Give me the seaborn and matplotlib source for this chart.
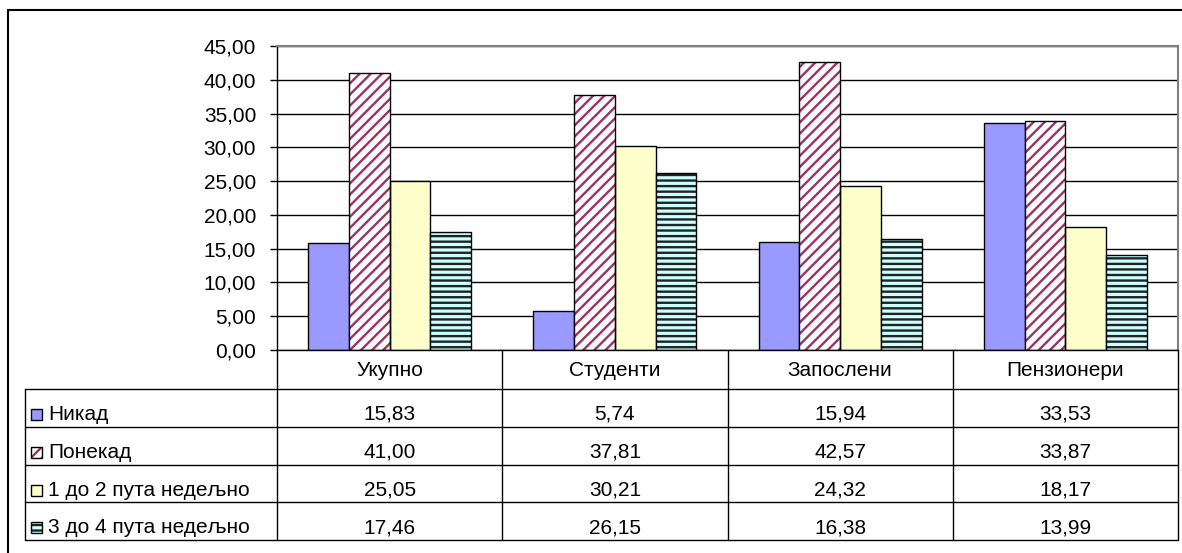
import numpy as np
import pandas as pd
import matplotlib
matplotlib.use("Agg")
import matplotlib.pyplot as plt
import seaborn as sns
from matplotlib.patches import Rectangle
from matplotlib.lines import Line2D

# Survey groups (columns) and answer series (rows of the data table)
categories = ["Укупно", "Студенти", "Запослени", "Пензионери"]
series = ["Никад", "Понекад", "1 до 2 пута недељно", "3 до 4 пута недељно"]
nikad = [15.83, 5.74, 15.94, 33.53]
ponekad = [41.00, 37.81, 42.57, 33.87]
jedan_dva = [25.05, 30.21, 24.32, 18.17]
tri_cetiri = [17.46, 26.15, 16.38, 13.99]
y_ticks = [0, 5, 10, 15, 20, 25, 30, 35, 40, 45]

values = [nikad, ponekad, jedan_dva, tri_cetiri]
fills = ["#9999FF", "#FFFFFF", "#FFFFCC", "#CCFFFF"]
hatches = [None, "///", None, "---"]
hatch_colors = [None, "#993366", None, "#222222"]

df = pd.DataFrame(
    [(c, s, v[i]) for s, v in zip(series, values) for i, c in enumerate(categories)],
    columns=["група", "одговор", "проценат"],
)

sns.set_theme(style="white")
plt.rcParams["font.family"] = ["Liberation Sans", "DejaVu Sans"]
plt.rcParams["hatch.linewidth"] = 1.7
FS = 15

W, H = 1182, 553
fig = plt.figure(figsize=(W / 100, H / 100), dpi=100)
fig.patch.set_facecolor("white")


def fx(px):
    return px / W


def fy(py):
    return 1 - py / H


X0, X1, Y0, Y1 = 277, 1178, 350, 46
ax = fig.add_axes([fx(X0), fy(Y0), fx(X1) - fx(X0), fy(Y1) - fy(Y0)])

sns.barplot(
    data=df, x="група", y="проценат", hue="одговор",
    order=categories, hue_order=series, palette=fills,
    saturation=1, width=0.724, gap=0, edgecolor="black", linewidth=1,
    legend=False, ax=ax,
)

# Patterned series: hatch in its own colour, black outline drawn on top
for cont, h, hc in zip(ax.containers, hatches, hatch_colors):
    if h is None:
        continue
    for bar in cont:
        bar.set_hatch(h)
        bar.set_edgecolor(hc)
        bar.set_linewidth(0)
        ax.add_patch(Rectangle(bar.get_xy(), bar.get_width(), bar.get_height(),
                               fill=False, edgecolor="black", lw=1,
                               zorder=bar.get_zorder() + 0.1))

ax.set_xlim(-0.5, len(categories) - 0.5)
ax.set_ylim(0, 45)
ax.set_yticks(y_ticks)
ax.set_yticklabels([f"{t:.2f}".replace(".", ",") for t in y_ticks], fontsize=FS)
ax.set_xticks([])
ax.set_xlabel("")
ax.set_ylabel("")
ax.yaxis.grid(True, color="black", lw=1)
ax.set_axisbelow(True)
ax.tick_params(axis="y", left=True, direction="out", length=5, width=1,
               color="black", pad=10, labelcolor="black")
for side in ["top", "right"]:
    ax.spines[side].set_color("#808080")
    ax.spines[side].set_linewidth(1.5)
for side in ["left", "bottom"]:
    ax.spines[side].set_color("black")
    ax.spines[side].set_linewidth(1)


def hline(x0, x1, y, **kw):
    fig.add_artist(Line2D([fx(x0), fx(x1)], [fy(y), fy(y)], color="black", lw=1, **kw))


def vline(x, y0, y1, **kw):
    fig.add_artist(Line2D([fx(x), fx(x)], [fy(y0), fy(y1)], color="black", lw=1, **kw))


# Data table below the plot
col_edges = [X0 + (X1 - X0) * i / len(categories) for i in range(len(categories) + 1)]
col_centers = [(a + b) / 2 for a, b in zip(col_edges[:-1], col_edges[1:])]
head_top, head_bot = 350, 389
row_edges = [389, 427, 465, 502, 540]
LEFT = 25

for x in col_edges:
    vline(x, head_top, row_edges[-1])
vline(LEFT, row_edges[0], row_edges[-1])
for y in row_edges:
    hline(LEFT, X1, y)

for cx, c in zip(col_centers, categories):
    fig.text(fx(cx), fy(376), c, ha="center", va="baseline", fontsize=FS, color="black")

for r, (s, v) in enumerate(zip(series, values)):
    base = row_edges[r] + 31
    for cx, val in zip(col_centers, v):
        fig.text(fx(cx), fy(base), f"{val:.2f}".replace(".", ","),
                 ha="center", va="baseline", fontsize=FS, color="black")
    # legend key
    key = Rectangle((fx(31), fy(base)), fx(11), 11 / H, transform=fig.transFigure,
                    facecolor=fills[r], edgecolor="black", lw=1)
    if hatches[r] is not None:
        key.set_hatch(hatches[r])
        key.set_edgecolor(hatch_colors[r])
        key.set_linewidth(0)
        fig.add_artist(key)
        fig.add_artist(Rectangle((fx(31), fy(base)), fx(11), 11 / H,
                                 transform=fig.transFigure, fill=False,
                                 edgecolor="black", lw=1))
    else:
        fig.add_artist(key)
    fig.text(fx(48), fy(base), s, ha="left", va="baseline", fontsize=FS, color="black")

# Chart frame
fig.add_artist(Line2D([fx(8), fx(W + 5)], [fy(10), fy(10)], color="black", lw=1.5))
fig.add_artist(Line2D([fx(8), fx(8)], [fy(10), fy(H + 5)], color="black", lw=1.5))

fig.savefig("out.png", dpi=100)
